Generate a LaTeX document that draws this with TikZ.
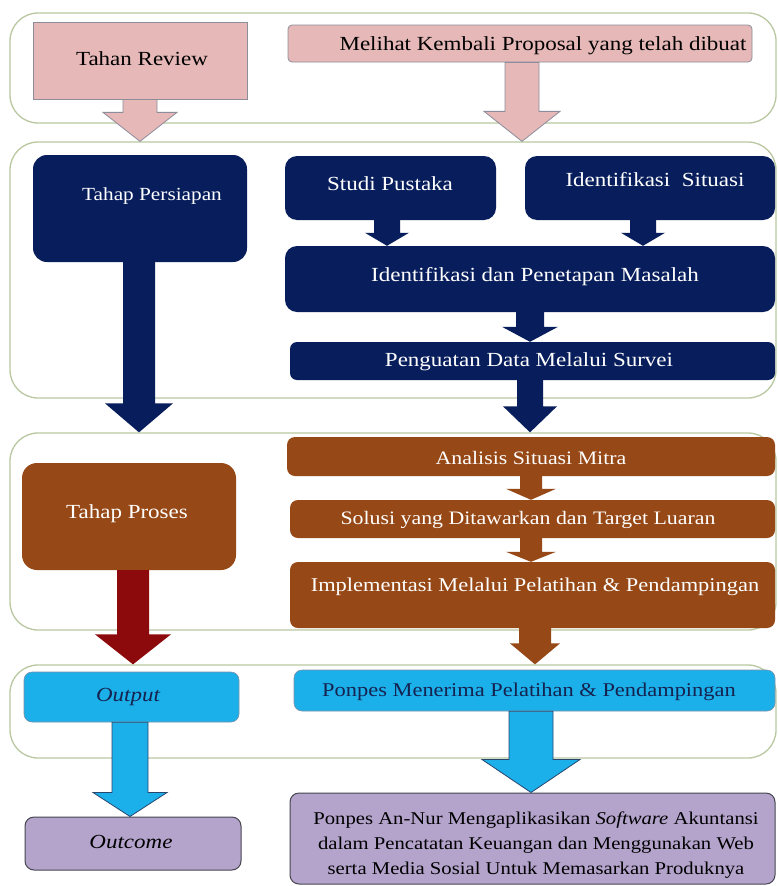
\documentclass[tikz,border=0pt]{standalone}
\usepackage{fontspec}
\setmainfont{Liberation Serif}[FakeStretch=1.15]
\usetikzlibrary{calc,fit}
\definecolor{pinkF}{RGB}{230,185,184}
\definecolor{pinkD}{RGB}{140,140,155}
\definecolor{navyc}{RGB}{8,30,92}
\definecolor{brownc}{RGB}{150,72,22}
\definecolor{redc}{RGB}{140,10,12}
\definecolor{cyanc}{RGB}{28,176,234}
\definecolor{cyanD}{RGB}{40,70,110}
\definecolor{lavc}{RGB}{180,164,204}
\definecolor{lavD}{RGB}{70,70,80}
\definecolor{grpc}{RGB}{185,200,160}
\definecolor{navytxt}{RGB}{20,35,80}
% block arrow: #1 style, #2 from node, #3 to node, #4 x centre, #5 head length, #6 shaft half width, #7 head half width
\newcommand\barrow[7]{%
  \path[#1] (#4-#6,0 |- #2.south) -- ($(#4-#6,0 |- #3.north)+(0,-#5)$) -- ($(#4-#7,0 |- #3.north)+(0,-#5)$)
    -- (#4,0 |- #3.north) -- ($(#4+#7,0 |- #3.north)+(0,-#5)$) -- ($(#4+#6,0 |- #3.north)+(0,-#5)$)
    -- (#4+#6,0 |- #2.south) -- cycle;}
\begin{document}
\begin{tikzpicture}[x=1pt,y=-1pt,
  grp/.style={draw=grpc, line width=1.3pt, rounded corners=28pt, inner sep=0pt},
  pinkbox/.style={fill=pinkF, draw=pinkD, line width=0.8pt, inner sep=0pt},
  navybox/.style={fill=navyc, rounded corners=14pt, inner sep=0pt},
  brownbox/.style={fill=brownc, rounded corners=8pt, inner sep=0pt},
  cyanbox/.style={fill=cyanc, draw=cyanD!60, line width=0.6pt, rounded corners=8pt, inner sep=0pt},
  lavbox/.style={fill=lavc, draw=lavD, line width=1pt, rounded corners=9pt, inner sep=0pt},
  txt/.style={inner sep=0pt, font=\fontsize{20}{24}\selectfont},
  wtxt/.style={txt, text=white},
  btxt/.style={txt, text=black},
  ctxt/.style={txt, text=navytxt},
  pinkarrow/.style={fill=pinkF, draw=pinkD, line width=0.8pt},
  navyarrow/.style={fill=navyc},
  brownarrow/.style={fill=brownc},
  redarrow/.style={fill=redc},
  cyanarrow/.style={fill=cyanc, draw=cyanD, line width=0.8pt}
]
\useasboundingbox (0,0) rectangle (778,886);
\fill[white] (0,0) rectangle (778,886);

% groups
\node[grp, fit={(10,13) (776,123)}] (g1) {};
\node[grp, fit={(10,142) (776,398)}] (g2) {};
\node[grp, fit={(10,433) (776,630)}] (g3) {};
\node[grp, fit={(10,665) (776,758)}] (g4) {};

% boxes
\node[pinkbox, fit={(33,22) (247,99)}] (rev) {};
\node[pinkbox, rounded corners=4pt, fit={(288,25) (752,62)}] (mel) {};
\node[navybox, fit={(33,155) (247,262)}] (per) {};
\node[navybox, rounded corners=12pt, fit={(285,156) (496,220)}] (stu) {};
\node[navybox, rounded corners=12pt, fit={(525,156) (775,220)}] (ids) {};
\node[navybox, rounded corners=12pt, fit={(285,246) (775,312)}] (idp) {};
\node[navybox, rounded corners=7pt, fit={(290,342) (775,380)}] (pen) {};
\node[brownbox, fit={(287,437) (775,476)}] (ana) {};
\node[brownbox, fit={(290,500) (775,538)}] (sol) {};
\node[brownbox, fit={(290,562) (775,628)}] (imp) {};
\node[brownbox, rounded corners=15pt, fit={(22,463) (236,570)}] (pro) {};
\node[cyanbox, fit={(24,672) (239,722)}] (out) {};
\node[cyanbox, fit={(294,670) (775,711)}] (pon) {};
\node[lavbox, fit={(25,817) (241,870)}] (otc) {};
\node[lavbox, fit={(290,793) (775,884)}] (fin) {};

% arrows
\barrow{pinkarrow}{rev}{g2}{140}{29}{17}{37}
\barrow{pinkarrow}{mel}{g2}{522}{30}{17}{38}
\barrow{navyarrow}{per}{g3}{139}{29}{16}{34}
\barrow{navyarrow}{stu}{idp}{387}{13}{13}{22}
\barrow{navyarrow}{ids}{idp}{643}{13}{13}{22}
\barrow{navyarrow}{idp}{pen}{530}{15}{14}{28}
\barrow{navyarrow}{pen}{g3}{530}{26}{13}{27}
\barrow{brownarrow}{ana}{sol}{531}{11}{11}{25}
\barrow{brownarrow}{sol}{imp}{531}{10}{11}{25}
\barrow{redarrow}{pro}{g4}{133}{30}{16}{38}
\barrow{brownarrow}{imp}{g4}{535}{21}{16}{25}
\barrow{cyanarrow}{out}{otc}{130}{24}{18}{37}
\barrow{cyanarrow}{pon}{fin}{531}{33}{22}{49}

% texts
\node[btxt] (t-rev) at (142,59) {Tahan Review};
\node[btxt] (t-mel) at (543,46) {Melihat Kembali Proposal yang telah dibuat};
\node[wtxt, font=\fontsize{18.5}{22}\selectfont] (t-per) at (152,196) {Tahap Persiapan};
\node[wtxt] (t-stu) at (390,184) {Studi Pustaka};
\node[wtxt] (t-ids) at (655,180) {Identifikasi \ Situasi};
\node[wtxt] (t-idp) at (535,277) {Identifikasi dan Penetapan Masalah};
\node[wtxt] (t-pen) at (529,362) {Penguatan Data Melalui Survei};
\node[wtxt, font=\fontsize{19}{22}\selectfont] (t-ana) at (531,458) {Analisis Situasi Mitra};
\node[wtxt, font=\fontsize{19}{22}\selectfont] (t-sol) at (528,520) {Solusi yang Ditawarkan dan Target Luaran};
\node[wtxt, font=\fontsize{19.5}{22}\selectfont] (t-imp) at (535,587) {Implementasi Melalui Pelatihan \& Pendampingan};
\node[wtxt] (t-pro) at (127,514) {Tahap Proses};
\node[ctxt] (t-out) at (128,697) {\itshape Output};
\node[ctxt, font=\fontsize{19.5}{22}\selectfont] (t-pon) at (529,692) {Ponpes Menerima Pelatihan \& Pendampingan};
\node[btxt] (t-otc) at (131,842) {\itshape Outcome};
\node[btxt, font=\fontsize{18}{25}\selectfont, align=center] (t-fin) at (536,845)
  {Ponpes An-Nur Mengaplikasikan \textit{Software} Akuntansi\\
   dalam Pencatatan Keuangan dan Menggunakan Web\\
   serta Media Sosial Untuk Memasarkan Produknya};
\end{tikzpicture}
\end{document}
